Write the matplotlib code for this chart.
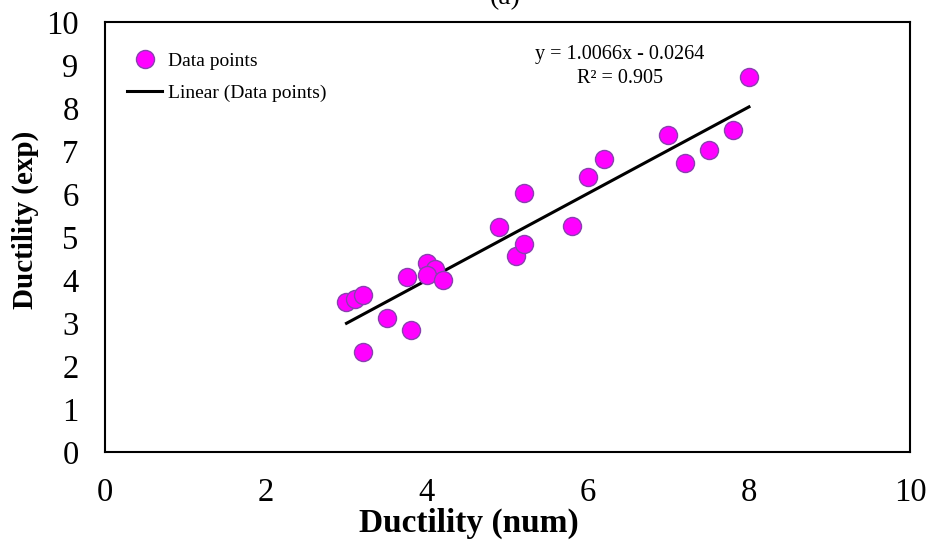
import numpy as np
import matplotlib.pyplot as plt

plt.rcParams['font.family'] = ['Liberation Serif', 'DejaVu Serif']

# data
duct_num = [3.0, 3.1, 3.2, 3.2, 3.5, 3.75, 3.8, 4.0, 4.1, 4.0, 4.2,
            4.9, 5.1, 5.2, 5.2, 5.8, 6.0, 6.2, 7.0, 7.2, 7.5, 7.8, 8.0]
duct_exp = [3.48, 3.56, 3.66, 2.33, 3.12, 4.07, 2.83, 4.4, 4.25, 4.12, 4.0,
            5.23, 4.56, 4.84, 6.02, 5.25, 6.4, 6.82, 7.38, 6.72, 7.02, 7.5, 8.72]
slope = 1.0066
intercept = -0.0264
r2 = 0.905

fig = plt.figure(figsize=(9.31, 5.41), dpi=100)
ax = fig.add_axes([0.1128, 0.1645, 0.8646, 0.7948])

xfit = np.array([min(duct_num), max(duct_num)])
ax.plot(xfit, slope * xfit + intercept, color='black', lw=2.2, zorder=2,
        label='Linear (Data points)')
ax.plot(duct_num, duct_exp, 'o', ms=13, mfc='#FF00FF', mec='#8A3FB0', mew=1.0,
        zorder=3, label='Data points')

ax.set_xlim(0, 10)
ax.set_ylim(0, 10)
ax.set_xticks(range(0, 11, 2))
ax.set_yticks(range(0, 11, 1))
ax.tick_params(length=0, labelsize=23.5)
ax.tick_params(axis='x', pad=18)
ax.tick_params(axis='y', pad=19)
for s in ax.spines.values():
    s.set_linewidth(1.5)

ax.set_xlabel('Ductility (num)', fontsize=24, fontweight='bold')
ax.xaxis.set_label_coords(0.452, -0.13)
ax.set_ylabel('Ductility (exp)', fontsize=21, fontweight='bold')
ax.yaxis.set_label_coords(-0.082, 0.54)

h, l = ax.get_legend_handles_labels()
ax.legend(h[::-1], l[::-1], loc='upper left', bbox_to_anchor=(0.006, 0.97),
          frameon=False, fontsize=14, handlelength=1.8, handletextpad=0.3,
          labelspacing=0.75)

ax.text(0.64, 0.925, 'y = 1.0066x - 0.0264', transform=ax.transAxes,
        ha='center', va='center', fontsize=14.5)
ax.text(0.64, 0.868, 'R² = %.3f' % r2, transform=ax.transAxes,
        ha='center', va='center', fontsize=14.5)

fig.text(0.543, 1.005, '(a)', ha='center', va='center', fontsize=20)

fig.savefig('out.png', dpi=100)
